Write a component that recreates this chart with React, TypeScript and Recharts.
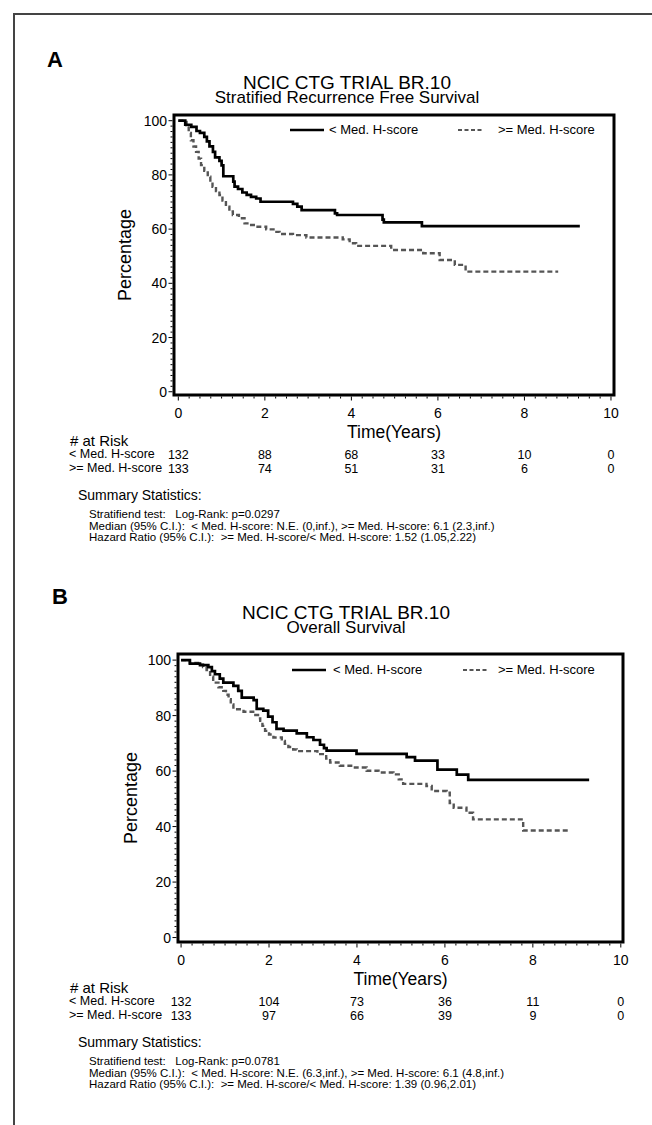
import React from "react";
import { LineChart, Line, XAxis, YAxis, ReferenceArea } from "recharts";

/* Two Kaplan–Meier panels (BR.10, H-score split). Steps read off the
   published figure; the risk table rides on the x-axis ticks so it lines
   up with the library's scale. */

const FONT = '"Liberation Sans", Arial, Helvetica, sans-serif';

const xMajor = [0, 2, 4, 6, 8, 10];
const yMajor = [0, 20, 40, 60, 80, 100];
const groups = ["< Med. H-score", ">= Med. H-score"];

// [years, % free of event]
const rfsBelow = [
  [0, 100], [0.16, 98.5], [0.3, 97.7], [0.42, 96.2], [0.5, 95.5], [0.6, 94], [0.66, 92.4],
  [0.72, 90.5], [0.8, 88.5], [0.85, 86.5], [0.95, 85.2], [1.0, 83.5], [1.04, 79.5],
  [1.27, 77.5], [1.3, 75.7], [1.38, 74.8], [1.48, 73.5], [1.58, 72.6], [1.68, 71.9],
  [1.8, 71.3], [1.9, 70.1], [2.65, 69.3], [2.75, 68.3], [2.85, 67], [3.62, 65.8],
  [3.67, 65.2], [4.72, 63.5], [4.75, 62.5], [5.63, 61.1], [9.28, 61.1],
];
const rfsAbove = [
  [0, 100], [0.12, 99.5], [0.19, 98.3], [0.24, 95.5], [0.29, 92.8], [0.35, 90.5],
  [0.41, 88.5], [0.47, 86], [0.525, 83.6], [0.6, 81.5], [0.68, 79.3], [0.74, 77.3],
  [0.79, 75.6], [0.87, 74], [0.95, 72.6], [1.02, 70.5], [1.1, 68.3], [1.18, 66.5],
  [1.26, 65.2], [1.4, 64], [1.53, 62.1], [1.65, 61.5], [1.8, 60.9], [2.03, 59.9],
  [2.2, 59], [2.34, 58.2], [2.65, 57.8], [2.96, 56.9], [3.8, 56.2], [3.96, 54.8],
  [4.11, 53.8], [4.92, 52.3], [5.66, 51.1], [6.04, 48.6], [6.39, 46.8], [6.64, 44.3],
  [8.78, 44.3],
];
const osBelow = [
  [0, 100], [0.2, 98.7], [0.43, 98.2], [0.62, 97.5], [0.7, 96], [0.77, 94.9], [0.88, 93.3],
  [0.96, 91.9], [1.19, 90.7], [1.3, 88.9], [1.38, 86.5], [1.65, 85.6], [1.72, 82.4],
  [1.87, 81.8], [1.98, 79.6], [2.08, 77.6], [2.17, 75.2], [2.33, 74.6], [2.63, 73.6],
  [2.86, 72.2], [3.01, 71.2], [3.16, 69.5], [3.25, 68.3], [3.31, 67.4], [3.99, 66.2],
  [5.13, 65], [5.32, 63.8], [5.83, 60.5], [6.27, 58.7], [6.53, 56.8], [9.28, 56.8],
];
const osAbove = [
  [0, 100], [0.2, 99], [0.43, 98.4], [0.5, 97.5], [0.58, 96.4], [0.66, 94], [0.73, 91.9],
  [0.85, 90.2], [0.96, 88.9], [1.02, 87.5], [1.08, 85.9], [1.13, 84], [1.19, 82.3],
  [1.42, 81.4], [1.64, 80.2], [1.75, 79], [1.8, 78.1], [1.85, 76.3], [1.91, 74.5],
  [2.0, 73.2], [2.1, 72.1], [2.29, 70.9], [2.36, 69.8], [2.44, 68.7], [2.55, 67.8],
  [2.63, 67.2], [3.1, 66.1], [3.3, 64.5], [3.39, 63.1], [3.61, 61.9], [3.92, 61.3],
  [4.22, 60.1], [4.49, 59.5], [4.83, 58.8], [4.95, 57], [5.05, 55.4], [5.58, 54.6],
  [5.7, 52.8], [6.04, 52.2], [6.11, 48.5], [6.2, 46.8], [6.49, 45], [6.64, 42.6],
  [7.78, 38.6], [8.84, 38.6],
];

const rfsRiskBelow = [132, 88, 68, 33, 10, 0];
const rfsRiskAbove = [133, 74, 51, 31, 6, 0];
const osRiskBelow = [132, 104, 73, 36, 11, 0];
const osRiskAbove = [133, 97, 66, 39, 9, 0];

const rfsStats = [
  "Stratifiend test:   Log-Rank: p=0.0297",
  "Median (95% C.I.):  < Med. H-score: N.E. (0,inf.), >= Med. H-score: 6.1 (2.3,inf.)",
  "Hazard Ratio (95% C.I.):  >= Med. H-score/< Med. H-score: 1.52 (1.05,2.22)",
];
const osStats = [
  "Stratifiend test:   Log-Rank: p=0.0781",
  "Median (95% C.I.):  < Med. H-score: N.E. (6.3,inf.), >= Med. H-score: 6.1 (4.8,inf.)",
  "Hazard Ratio (95% C.I.):  >= Med. H-score/< Med. H-score: 1.39 (0.96,2.01)",
];

// minor ticks every quarter year / every 2 %
const xTicks = Array.from({ length: 41 }, (_, i) => i * 0.25);
const yTicks = Array.from({ length: 51 }, (_, i) => i * 2);

const toRows = (pts: number[][]) => pts.map(([t, s]) => ({ t, s }));

function T({ x, y, size, anchor = "start", bold, children, rotate }: any) {
  const tx = anchor === "middle" ? "-50%" : anchor === "end" ? "-100%" : "0";
  return (
    <div
      style={{
        position: "absolute", left: x, top: y, fontSize: size, lineHeight: 0.75, whiteSpace: "pre",
        fontWeight: bold ? 700 : 400,
        transform: `translate(${tx}, -50%)${rotate ? ` rotate(${rotate}deg)` : ""}`,
      }}
    >
      {children}
    </div>
  );
}

function XTick({ x, y, payload, risk }: any) {
  const i = xMajor.indexOf(payload.value);
  const major = i >= 0;
  return (
    <g>
      <line x1={x} x2={x} y1={y + 1.5} y2={y + (major ? 5.5 : 3.5)} stroke="#000" strokeWidth={1} />
      {major && (
        <text x={x} y={y + 18} textAnchor="middle" dominantBaseline="central" fontSize={14} fontFamily={FONT} fill="#000">
          {payload.value}
        </text>
      )}
      {major &&
        risk.map((row: number[], r: number) => (
          <text key={r} x={x} y={y + 60 + r * 14} textAnchor="middle" dominantBaseline="central" fontSize={12.5} fontFamily={FONT} fill="#000">
            {row[i]}
          </text>
        ))}
    </g>
  );
}

function YTick({ x, y, payload }: any) {
  const major = yMajor.includes(payload.value);
  return (
    <g>
      <line x1={x - 1.5} x2={x - (major ? 5.5 : 3.5)} y1={y} y2={y} stroke="#000" strokeWidth={1} />
      {major && (
        <text x={x - 7} y={y} textAnchor="end" dominantBaseline="central" fontSize={14} fontFamily={FONT} fill="#000">
          {payload.value}
        </text>
      )}
    </g>
  );
}

function Panel({ c }: any) {
  const { plot, top, height, xDom, yDom } = c;
  const cx = (plot.l + plot.r) / 2;
  const lh = c.titleGap - 0.7;
  return (
    <>
      <div style={{ position: "absolute", left: 0, top }}>
        {/* axes get 1px so recharts still draws their ticks; margins give it back */}
        <LineChart
          width={652}
          height={height}
          margin={{ top: plot.t - top, left: plot.l - 1, right: 652 - plot.r, bottom: top + height - plot.b - 1 }}
        >
          <XAxis
            dataKey="t" type="number" domain={xDom} ticks={xTicks} interval={0}
            height={1} tickSize={0} tickMargin={0} tickLine={false} axisLine={false}
            tick={(p: any) => <XTick {...p} risk={[c.riskBelow, c.riskAbove]} />}
          />
          <YAxis
            type="number" domain={yDom} ticks={yTicks} interval={0}
            width={1} tickSize={0} tickMargin={0} tickLine={false} axisLine={false}
            tick={(p: any) => <YTick {...p} />}
          />
          <Line data={toRows(c.above)} dataKey="s" type="stepAfter" stroke="#555" strokeWidth={2.4}
            strokeDasharray="5 3" dot={false} activeDot={false} isAnimationActive={false} />
          <Line data={toRows(c.below)} dataKey="s" type="stepAfter" stroke="#000" strokeWidth={2.7}
            dot={false} activeDot={false} isAnimationActive={false} />
          <ReferenceArea x1={xDom[0]} x2={xDom[1]} y1={yDom[0]} y2={yDom[1]} fill="none"
            stroke="#000" strokeWidth={3} ifOverflow="visible" />
        </LineChart>
      </div>

      <T x={c.labelX} y={c.labelY} size={22} bold>{c.label}</T>

      {/* title + subtitle: one text block, first line set larger, tight like the SAS output */}
      <div
        className="km-title"
        style={{
          position: "absolute", left: c.titleX, top: c.titleY - lh / 2 + 0.5, transform: "translateX(-50%)",
          textAlign: "center", whiteSpace: "pre", fontSize: 17, lineHeight: `${lh}px`,
        }}
      >
        {`NCIC CTG TRIAL BR.10\n${c.subtitle}`}
      </div>

      {/* legend inside the plot */}
      <svg style={{ position: "absolute", left: 0, top: c.legendY - 5 }} width={652} height={10}>
        <line x1={c.legend[0]} x2={c.legend[0] + 34} y1={5} y2={5} stroke="#000" strokeWidth={2.5} />
        <line x1={c.legend[2]} x2={c.legend[2] + 25} y1={5} y2={5} stroke="#555" strokeWidth={1.8} strokeDasharray="4 2.5" />
      </svg>
      <T x={c.legend[1]} y={c.legendY} size={13}>{groups[0]}</T>
      <T x={c.legend[3]} y={c.legendY} size={13}>{groups[1]}</T>

      <T x={c.yLabelX} y={(plot.t + plot.b) / 2} size={18} anchor="middle" rotate={-90}>Percentage</T>
      <T x={cx} y={plot.b + 38} size={17.5} anchor="middle">Time(Years)</T>

      <T x={70} y={plot.b + 46} size={15}># at Risk</T>
      <T x={69} y={plot.b + 60} size={12.5}>{groups[0]}</T>
      <T x={69} y={plot.b + 74} size={12.5}>{groups[1]}</T>

      <T x={78} y={plot.b + 100} size={14}>Summary Statistics:</T>
      {c.stats.map((s: string, i: number) => (
        <T key={i} x={89} y={plot.b + 119 + i * 11.5} size={11.5}>{s}</T>
      ))}
    </>
  );
}

const panelA = {
  label: "A", labelX: 47, labelY: 60,
  titleX: 347, titleY: 82, titleGap: 16, subtitle: "Stratified Recurrence Free Survival",
  top: 0, height: 560,
  plot: { l: 174, t: 115, r: 614, b: 395 },
  xDom: [-0.1, 10.07], yDom: [-1.2, 102.1],
  below: rfsBelow, above: rfsAbove, riskBelow: rfsRiskBelow, riskAbove: rfsRiskAbove,
  legendY: 130, legend: [290, 329, 458, 498],
  yLabelX: 126,
  stats: rfsStats,
};

const panelB = {
  label: "B", labelX: 52, labelY: 597,
  titleX: 346, titleY: 612, titleGap: 16.5, subtitle: "Overall Survival",
  top: 560, height: 565,
  plot: { l: 178, t: 654, r: 623, b: 942 },
  xDom: [-0.07, 10.05], yDom: [-1.6, 102.2],
  below: osBelow, above: osAbove, riskBelow: osRiskBelow, riskAbove: osRiskAbove,
  legendY: 670, legend: [292, 333, 463, 498],
  yLabelX: 132,
  stats: osStats,
};

export default function App() {
  return (
    <div
      style={{
        position: "fixed", left: 0, top: 0, width: 652, height: 1125, overflow: "hidden",
        background: "#fff", color: "#000", fontFamily: FONT,
      }}
    >
      <style>{`.km-title::first-line { font-size: 19px; }`}</style>
      <div style={{ position: "absolute", left: 13, top: 13, width: 760, height: 1300, borderLeft: "2px solid #444", borderTop: "2px solid #444" }} />
      <Panel c={panelA} />
      <Panel c={panelB} />
    </div>
  );
}
